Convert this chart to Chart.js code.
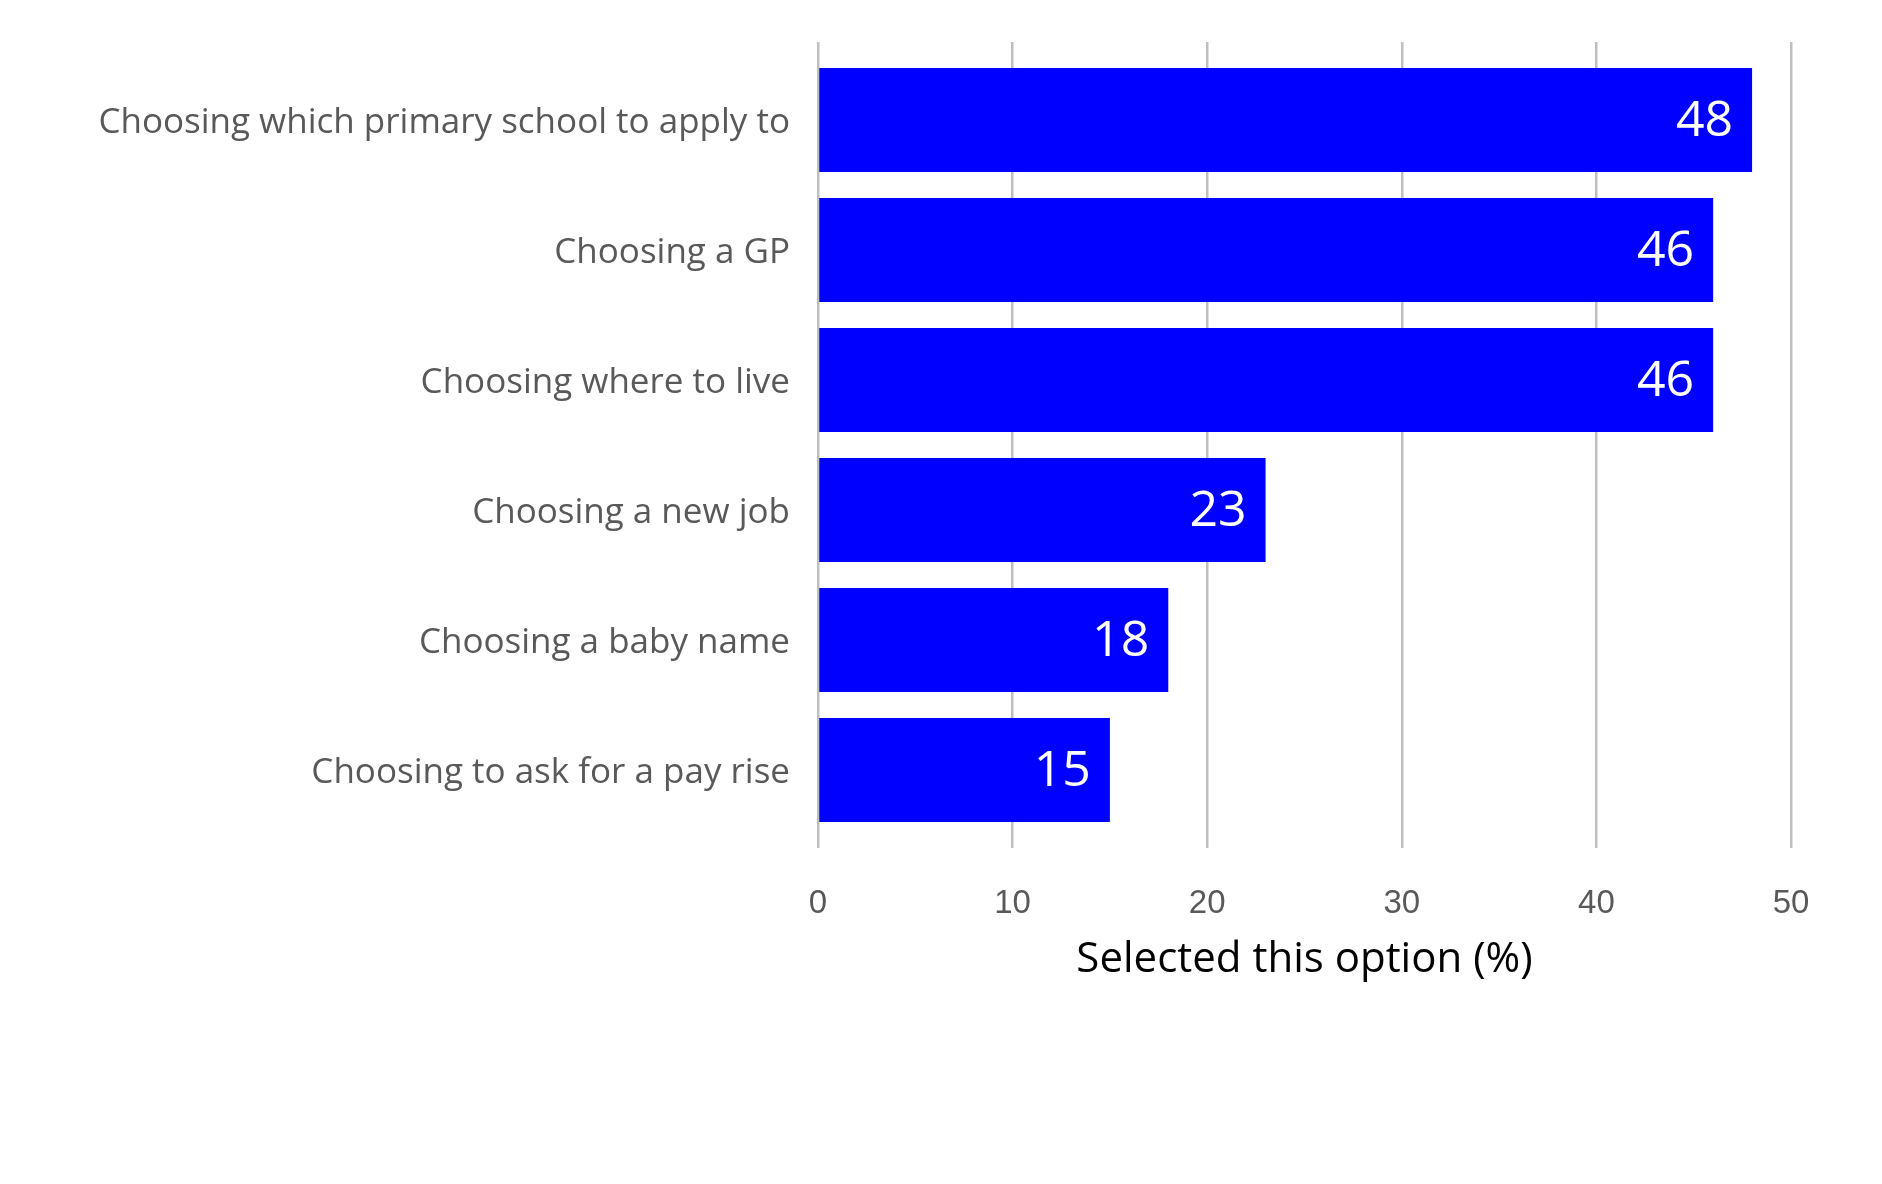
<!DOCTYPE html>
<html>
<head>
<meta charset="utf-8">
<script src="https://cdn.jsdelivr.net/npm/chart.js@4.4.1/dist/chart.umd.min.js"></script>
<style>
  html, body { margin: 0; padding: 0; background: #ffffff; }
  #wrap { width: 1882px; height: 1184px; position: relative; }
</style>
</head>
<body>
<div id="wrap"><canvas id="c"></canvas></div>
<script>
const categories = [
  "Choosing which primary school to apply to",
  "Choosing a GP",
  "Choosing where to live",
  "Choosing a new job",
  "Choosing a baby name",
  "Choosing to ask for a pay rise"
];
const selectedPct = [48, 46, 46, 23, 18, 15];
const xTicks = [0, 10, 20, 30, 40, 50];
const xTitle = "Selected this option (%)";

const gridColor = "#bfbfbf";

const valueLabels = {
  id: "valueLabels",
  afterDatasetsDraw(chart) {
    const ctx = chart.ctx;
    const meta = chart.getDatasetMeta(0);
    ctx.save();
    ctx.fillStyle = "#ffffff";
    ctx.font = "50px 'Open Sans'";
    ctx.textAlign = "right";
    ctx.textBaseline = "middle";
    meta.data.forEach((bar, i) => {
      ctx.fillText(String(selectedPct[i]), bar.x - 19, bar.y + 2);
    });
    ctx.restore();
  }
};

new Chart(document.getElementById("c"), {
  type: "bar",
  data: {
    labels: categories,
    datasets: [{
      data: selectedPct,
      backgroundColor: "#0000ff",
      borderWidth: 0,
      barPercentage: 0.8,
      categoryPercentage: 1.0
    }]
  },
  options: {
    indexAxis: "y",
    responsive: true,
    maintainAspectRatio: false,
    animation: false,
    devicePixelRatio: 1,
    layout: { padding: { top: 0, right: 91, bottom: 0, left: 0 } },
    plugins: {
      legend: { display: false },
      tooltip: { enabled: false }
    },
    scales: {
      x: {
        type: "linear",
        position: "bottom",
        min: 0,
        max: 50,
        afterBuildTicks(scale) { scale.ticks = xTicks.map(v => ({ value: v })); },
        afterFit(scale) { scale.height = 1184 - 835; },
        border: { display: false },
        grid: { color: gridColor, lineWidth: 2.5, drawTicks: true, tickLength: 13 },
        ticks: {
          color: "#595959",
          font: { family: "'Liberation Sans', Arial, sans-serif", size: 33 },
          padding: 36,
          maxRotation: 0
        },
        title: {
          display: true,
          text: xTitle,
          color: "#000000",
          font: { family: "'Open Sans', sans-serif", size: 42 },
          padding: { top: 0, bottom: 199 }
        }
      },
      x2: {
        type: "linear",
        axis: "x",
        position: "top",
        min: 0,
        max: 50,
        afterBuildTicks(scale) { scale.ticks = xTicks.map(v => ({ value: v })); },
        afterFit(scale) { scale.height = 55; },
        border: { display: false },
        grid: { color: gridColor, lineWidth: 2.5, drawOnChartArea: false, drawTicks: true, tickLength: 13 },
        ticks: { display: false }
      },
      y: {
        type: "category",
        offset: true,
        afterFit(scale) { scale.width = 818; },
        border: { display: false },
        grid: { display: false, drawTicks: false },
        ticks: {
          color: "#595959",
          font: { family: "'Open Sans', sans-serif", size: 35 },
          padding: 28,
          labelOffset: 3
        }
      }
    }
  },
  plugins: [valueLabels]
});
</script>
</body>
</html>
